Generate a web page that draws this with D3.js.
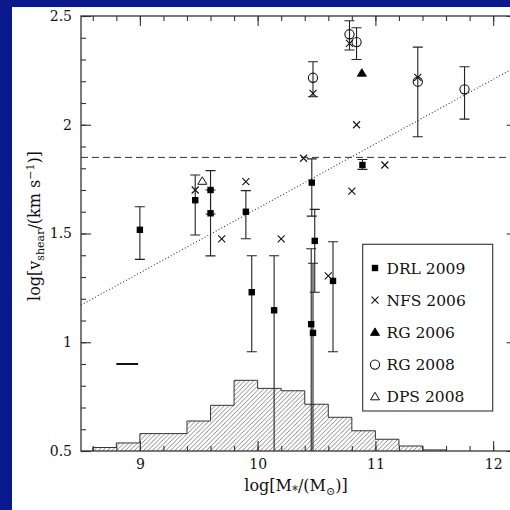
<html>
<head>
<script src="https://d3js.org/d3.v7.min.js"></script>
<style>
  body { margin: 0; background: #0a1a8c; }
  svg text { font-family: "DejaVu Serif", serif; fill: #111; }
</style>
</head>
<body>
<svg id="chart" width="510" height="510"></svg>
<script>
// DRL 2009 : filled squares with error bars
var drlMass = [9.0, 9.47, 9.6, 9.6, 9.9, 9.95, 10.14, 10.46, 10.485, 10.455, 10.47, 10.64, 10.89];
var drlV    = [1.517, 1.653, 1.70, 1.593, 1.60, 1.23, 1.147, 1.734, 1.466, 1.083, 1.043, 1.282, 1.815];
var drlHi   = [1.623, 1.769, 1.789, 1.70, 1.697, 1.398, 1.398, 1.843, 1.611, 1.43, 1.363, 1.462, 1.84];
var drlLo   = [1.381, 1.493, 1.59, 1.397, 1.476, 0.956, 0.5, 1.58, 1.23, 0.5, 0.5, 0.956, 1.795];

// NFS 2006 : crosses
var nfsMass = [9.47, 9.695, 9.9, 10.2, 10.39, 10.47, 10.6, 10.78, 10.80, 10.84, 11.08, 11.36];
var nfsV    = [1.70, 1.475, 1.738, 1.475, 1.846, 2.144, 1.305, 2.374, 1.695, 2.0, 1.815, 2.218];

// RG 2006 : filled triangle
var rg06Mass = [10.885];
var rg06V    = [2.237];

// RG 2008 : open circles with error bars
var rg08Mass = [10.47, 10.78, 10.84, 11.36, 11.757];
var rg08V    = [2.216, 2.416, 2.38, 2.198, 2.163];
var rg08Hi   = [2.29, 2.478, 2.446, 2.357, 2.267];
var rg08Lo   = [2.129, 2.344, 2.30, 1.945, 2.026];

// DPS 2008 : open triangle
var dpsMass = [9.53];
var dpsV    = [1.74];

// histogram of stellar masses (bin starts, width 0.2, tops in plot units)
var histStart = [8.6, 8.8, 9.0, 9.2, 9.4, 9.6, 9.8, 10.0, 10.2, 10.4, 10.6, 10.8, 11.0, 11.2, 11.4];
var histTop   = [0.516, 0.537, 0.58, 0.58, 0.638, 0.71, 0.825, 0.788, 0.777, 0.715, 0.655, 0.593, 0.554, 0.523, 0.505];
var histWidth = 0.2;

// reference lines
var dashedLevel = 1.85;
var fitX = [8.5, 12.2];
var fitY = [1.171, 2.268];
var errBarX = [8.8, 8.985];
var errBarY = 0.9;

var xMajor = [9, 10, 11, 12];
var yMajor = [0.5, 1, 1.5, 2, 2.5];
var legendLabels = ["DRL 2009", "NFS 2006", "RG 2006", "RG 2008", "DPS 2008"];

var svg = d3.select("#chart");
svg.append("rect").attr("x", 12).attr("y", 7).attr("width", 498).attr("height", 503).attr("fill", "white");

var pL = 81, pR = 516.7, pT = 16, pB = 451;
var x = d3.scaleLinear().domain([8.5, 12.2]).range([pL, pR]);
var y = d3.scaleLinear().domain([0.5, 2.5]).range([pB, pT]);

var xMinor = d3.range(8.6, 12.21, 0.2).map(function (d) { return +d.toFixed(1); });
var yMinor = d3.range(0.5, 2.51, 0.1).map(function (d) { return +d.toFixed(1); });

var defs = svg.append("defs");
defs.append("clipPath").attr("id", "plotclip")
  .append("rect").attr("x", pL).attr("y", pT).attr("width", pR - pL).attr("height", pB - pT);
var pat = defs.append("pattern").attr("id", "hatch").attr("patternUnits", "userSpaceOnUse")
  .attr("width", 4.5).attr("height", 4.5);
pat.append("path").attr("d", "M-1,5.5 L5.5,-1 M-1,1 L1,-1 M3.5,5.5 L5.5,3.5")
  .attr("stroke", "#555").attr("stroke-width", 0.7);

var plot = svg.append("g").attr("clip-path", "url(#plotclip)");

// histogram: hatched step area + outline
var histPts = histStart.map(function (s, i) { return [s, histTop[i]]; });
histPts.push([histStart[histStart.length - 1] + histWidth, histTop[histTop.length - 1]]);
var area = d3.area().x(function (d) { return x(d[0]); }).y0(y(0.5)).y1(function (d) { return y(d[1]); })
  .curve(d3.curveStepAfter);
plot.append("path").datum(histPts).attr("d", area).attr("fill", "url(#hatch)");

var outline = [[histStart[0], 0.5]];
histStart.forEach(function (s, i) {
  outline.push([s, histTop[i]]);
  outline.push([s + histWidth, histTop[i]]);
});
outline.push([histStart[histStart.length - 1] + histWidth, 0.5]);
plot.append("path").datum(outline)
  .attr("d", d3.line().x(function (d) { return x(d[0]); }).y(function (d) { return y(d[1]); }))
  .attr("fill", "none").attr("stroke", "#333").attr("stroke-width", 1);

// dashed and dotted lines
plot.append("line").attr("x1", pL).attr("x2", pR).attr("y1", y(dashedLevel)).attr("y2", y(dashedLevel))
  .attr("stroke", "#333").attr("stroke-width", 1).attr("stroke-dasharray", "7,4");
plot.append("line").attr("x1", x(fitX[0])).attr("x2", x(fitX[1])).attr("y1", y(fitY[0])).attr("y2", y(fitY[1]))
  .attr("stroke", "#333").attr("stroke-width", 1.1).attr("stroke-dasharray", "1,2.2");
plot.append("line").attr("x1", x(errBarX[0])).attr("x2", x(errBarX[1])).attr("y1", y(errBarY)).attr("y2", y(errBarY))
  .attr("stroke", "#111").attr("stroke-width", 2);

// error bars
function errorBars(mass, hi, lo) {
  mass.forEach(function (m, i) {
    var g = plot.append("g").attr("stroke", "#222").attr("stroke-width", 1.1);
    g.append("line").attr("x1", x(m)).attr("x2", x(m)).attr("y1", y(hi[i])).attr("y2", y(lo[i]));
    g.append("line").attr("x1", x(m) - 5).attr("x2", x(m) + 5).attr("y1", y(hi[i])).attr("y2", y(hi[i]));
    if (lo[i] > 0.5) {
      g.append("line").attr("x1", x(m) - 5).attr("x2", x(m) + 5).attr("y1", y(lo[i])).attr("y2", y(lo[i]));
    }
  });
}
errorBars(drlMass, drlHi, drlLo);
errorBars(rg08Mass, rg08Hi, rg08Lo);

// marker shapes
function square(g, cx, cy) {
  g.append("rect").attr("x", cx - 3.2).attr("y", cy - 3.2).attr("width", 6.4).attr("height", 6.4).attr("fill", "#000");
}
function cross(g, cx, cy) {
  g.append("path").attr("d", "M" + (cx - 3.5) + "," + (cy - 3.5) + "L" + (cx + 3.5) + "," + (cy + 3.5) +
    "M" + (cx - 3.5) + "," + (cy + 3.5) + "L" + (cx + 3.5) + "," + (cy - 3.5))
    .attr("stroke", "#111").attr("stroke-width", 1.1).attr("fill", "none");
}
function triangle(g, cx, cy, filled) {
  g.append("path").attr("d", "M" + cx + "," + (cy - 4.5) + "L" + (cx + 4.5) + "," + (cy + 3) + "L" + (cx - 4.5) + "," + (cy + 3) + "Z")
    .attr("fill", filled ? "#000" : "white").attr("stroke", "#111").attr("stroke-width", 1);
}
function circle(g, cx, cy) {
  g.append("circle").attr("cx", cx).attr("cy", cy).attr("r", 4.6).attr("fill", "none").attr("stroke", "#111").attr("stroke-width", 1.1);
}

var marks = plot.append("g");
drlMass.forEach(function (m, i) { square(marks, x(m), y(drlV[i])); });
nfsMass.forEach(function (m, i) { cross(marks, x(m), y(nfsV[i])); });
rg06Mass.forEach(function (m, i) { triangle(marks, x(m), y(rg06V[i]), true); });
rg08Mass.forEach(function (m, i) { circle(marks, x(m), y(rg08V[i])); });
dpsMass.forEach(function (m, i) { triangle(marks, x(m), y(dpsV[i]), false); });

// axes
function styleAxis(g) {
  g.select(".domain").remove();
  g.selectAll(".tick line").attr("stroke", "#333").attr("stroke-width", 1.1);
  g.selectAll(".tick text").style("font-family", "DejaVu Serif").style("font-size", "14px").attr("fill", "#111");
}
svg.append("g").attr("transform", "translate(0," + pB + ")")
  .call(d3.axisBottom(x).tickValues(xMajor).tickSizeInner(-10).tickSizeOuter(0).tickPadding(8).tickFormat(d3.format("d")))
  .call(styleAxis);
svg.append("g").attr("transform", "translate(0," + pB + ")")
  .call(d3.axisBottom(x).tickValues(xMinor).tickSize(-5).tickFormat("")).call(styleAxis);
svg.append("g").attr("transform", "translate(0," + pT + ")")
  .call(d3.axisTop(x).tickValues(xMajor).tickSize(-10).tickFormat("")).call(styleAxis);
svg.append("g").attr("transform", "translate(0," + pT + ")")
  .call(d3.axisTop(x).tickValues(xMinor).tickSize(-5).tickFormat("")).call(styleAxis);
svg.append("g").attr("transform", "translate(" + pL + ",0)")
  .call(d3.axisLeft(y).tickValues(yMajor).tickSizeInner(-10).tickSizeOuter(0).tickPadding(9).tickFormat(d3.format("~g")))
  .call(styleAxis);
svg.append("g").attr("transform", "translate(" + pL + ",0)")
  .call(d3.axisLeft(y).tickValues(yMinor).tickSize(-5).tickFormat("")).call(styleAxis);
svg.append("g").attr("transform", "translate(" + pR + ",0)")
  .call(d3.axisRight(y).tickValues(yMajor).tickSize(-10).tickFormat("")).call(styleAxis);
svg.append("g").attr("transform", "translate(" + pR + ",0)")
  .call(d3.axisRight(y).tickValues(yMinor).tickSize(-5).tickFormat("")).call(styleAxis);

svg.append("rect").attr("x", pL).attr("y", pT).attr("width", pR - pL).attr("height", pB - pT)
  .attr("fill", "none").attr("stroke", "#333").attr("stroke-width", 1.3);

// axis labels
var xl = svg.append("text").attr("x", 296).attr("y", 491).attr("text-anchor", "middle").style("font-size", "16px");
xl.append("tspan").text("log[M");
xl.append("tspan").attr("dy", 4).style("font-size", "12px").text("*");
xl.append("tspan").attr("dy", -4).text("/(M");
xl.append("tspan").attr("dy", 4).style("font-size", "11px").text("\u2299");
xl.append("tspan").attr("dy", -4).text(")]");

var yl = svg.append("text").attr("transform", "translate(40,226) rotate(-90)").attr("text-anchor", "middle").style("font-size", "16px");
yl.append("tspan").text("log[v");
yl.append("tspan").attr("dy", 4).style("font-size", "11px").text("shear");
yl.append("tspan").attr("dy", -4).text("/(km s");
yl.append("tspan").attr("dy", -6).style("font-size", "11px").text("\u22121");
yl.append("tspan").attr("dy", 6).text(")]");

// legend
var lg = svg.append("g");
lg.append("rect").attr("x", 362.7).attr("y", 244.3).attr("width", 130).attr("height", 166.7)
  .attr("fill", "white").attr("stroke", "#333").attr("stroke-width", 1.1);
var shapes = [square, cross, function (g, a, b) { triangle(g, a, b, true); }, circle, function (g, a, b) { triangle(g, a, b, false); }];
legendLabels.forEach(function (t, i) {
  var cy = 268 + i * 32.2;
  var s = lg.append("g");
  shapes[i](s, 375, cy);
  lg.append("text").attr("x", 386.5).attr("y", cy + 5.5).style("font-size", "15.5px").text(t);
});
</script>
</body>
</html>
